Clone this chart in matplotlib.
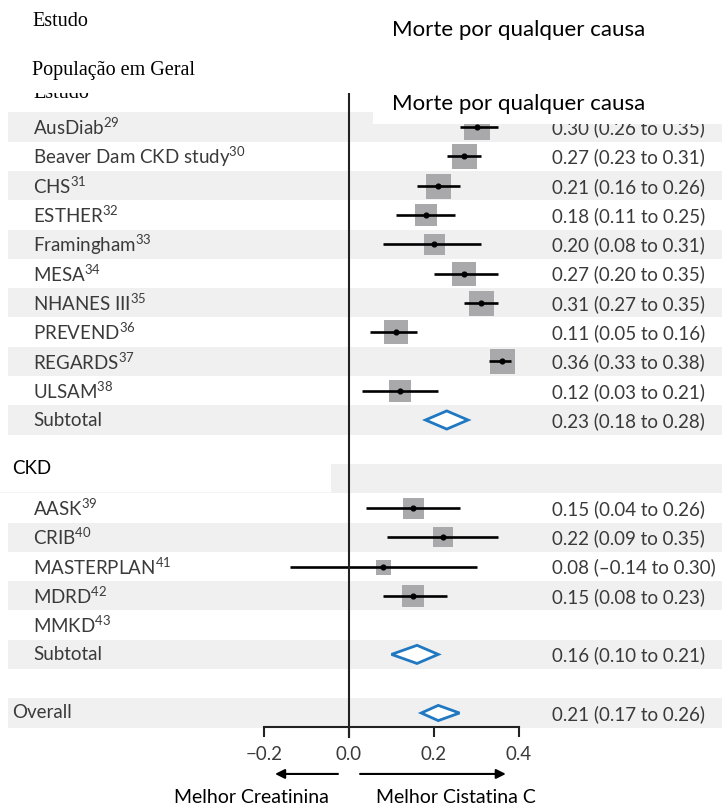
import matplotlib
matplotlib.use("Agg")
import matplotlib.pyplot as plt
from matplotlib.patches import Polygon, Rectangle

plt.rcParams["font.family"] = ["Lato", "DejaVu Sans"]
plt.rcParams["mathtext.fontset"] = "custom"
plt.rcParams["mathtext.rm"] = "Lato"

# ---- data -------------------------------------------------------------
general_studies = ["AusDiab", "Beaver Dam CKD study", "CHS", "ESTHER", "Framingham",
                   "MESA", "NHANES III", "PREVEND", "REGARDS", "ULSAM"]
general_refs = ["29", "30", "31", "32", "33", "34", "35", "36", "37", "38"]
general_est = [0.30, 0.27, 0.21, 0.18, 0.20, 0.27, 0.31, 0.11, 0.36, 0.12]
general_lo = [0.26, 0.23, 0.16, 0.11, 0.08, 0.20, 0.27, 0.05, 0.33, 0.03]
general_hi = [0.35, 0.31, 0.26, 0.25, 0.31, 0.35, 0.35, 0.16, 0.38, 0.21]
general_weight = [26, 25, 25, 23, 21, 24, 25, 24, 25, 22]
general_subtotal = (0.23, 0.18, 0.28)

ckd_studies = ["AASK", "CRIB", "MASTERPLAN", "MDRD", "MMKD"]
ckd_refs = ["39", "40", "41", "42", "43"]
ckd_est = [0.15, 0.22, 0.08, 0.15, None]
ckd_lo = [0.04, 0.09, -0.14, 0.08, None]
ckd_hi = [0.26, 0.35, 0.30, 0.23, None]
ckd_weight = [21, 20, 15, 23, None]
ckd_subtotal = (0.16, 0.10, 0.21)

overall = (0.21, 0.17, 0.26)

x_ticks = [-0.2, 0.0, 0.2, 0.4]
x_tick_labels = ["\u22120.2", "0.0", "0.2", "0.4"]

# ---- figure / coordinate frame ------------------------------------------
W, H = 722, 807
DPI = 100
fig = plt.figure(figsize=(W / DPI, H / DPI), dpi=DPI)
ax = fig.add_axes([0, 0, 1, 1])

X0_PX, PX_PER_UNIT = 349.0, 425.0   # position of zero and scale of the effect axis
Y0_PX, ROW_PX = 127.0, 29.3         # centre of first row and row pitch
ax.set_xlim(-X0_PX / PX_PER_UNIT, (W - X0_PX) / PX_PER_UNIT)
ax.set_ylim((H - Y0_PX) / ROW_PX, -Y0_PX / ROW_PX)
ax.patch.set_alpha(0)

def fx(px):
    return px / W

def fy(py):
    return 1 - py / H

BAND = "#f0f0f0"
BOX = "#a9a9ab"
BLUE = "#1f78c1"
TXT = "#3a3a3a"
FS = 13.5

# rows layout
rows = []
for i, name in enumerate(general_studies):
    rows.append(("study", name, general_refs[i], general_est[i], general_lo[i],
                 general_hi[i], general_weight[i]))
rows.append(("sub", "Subtotal", None) + general_subtotal + (None,))
rows.append(("blank",))
rows.append(("blank",))  # CKD header row
for i, name in enumerate(ckd_studies):
    rows.append(("study", name, ckd_refs[i], ckd_est[i], ckd_lo[i], ckd_hi[i], ckd_weight[i]))
rows.append(("sub", "Subtotal", None) + ckd_subtotal + (None,))
rows.append(("blank",))
rows.append(("overall", "Overall", None) + overall + (None,))

# alternating shaded bands
for i in range(len(rows)):
    if i % 2 == 0:
        ax.axhspan(i - 0.5, i + 0.5, xmin=8 / W, xmax=1, color=BAND, lw=0, zorder=0)

ytrans = ax.get_yaxis_transform()
for i, r in enumerate(rows):
    kind = r[0]
    if kind == "blank":
        continue
    _, name, ref, est, lo, hi, wt = r
    lx = 12 / W if kind == "overall" else 33 / W
    label = name if ref is None else name + r"$^{\mathregular{" + ref + "}}$"
    ax.text(lx, i, label, transform=ytrans, ha="left", va="center",
            fontsize=FS, color=TXT, zorder=5)
    if est is None:
        continue
    if kind == "study":
        side = wt * 0.72
        ax.scatter([est], [i], marker="s", s=side ** 2, color=BOX, lw=0, zorder=2)
        ax.plot([lo, hi], [i, i], color="black", lw=1.9, solid_capstyle="butt", zorder=3)
        ax.plot([est], [i], "o", color="black", ms=3.4, zorder=4)
    else:
        h = 0.26 if kind == "overall" else 0.31
        poly = Polygon([(lo, i), (est, i - h), (hi, i), (est, i + h)], closed=True,
                       facecolor="white", edgecolor=BLUE, lw=2.0, zorder=3, joinstyle="miter")
        ax.add_patch(poly)
    ax.text(552 / W, i + 0.04, f"{est:.2f} ({lo:.2f} to {hi:.2f})".replace("-", "\u2013"),
            transform=ytrans, ha="left", va="center", fontsize=FS, color=TXT, zorder=5)

# zero line
ax.plot([0, 0], [-1.16, 20.82], color="#222222", lw=1.5, zorder=4)

# effect axis
for s in ["top", "left", "right"]:
    ax.spines[s].set_visible(False)
ax.spines["bottom"].set_position(("data", 20.48))
ax.spines["bottom"].set_bounds(x_ticks[0], x_ticks[-1])
ax.spines["bottom"].set_linewidth(1.5)
ax.spines["bottom"].set_color("#222222")
ax.set_xticks(x_ticks)
ax.set_xticklabels(x_tick_labels)
ax.tick_params(axis="x", direction="out", length=7.5, width=1.5, color="#222222",
               labelsize=FS, labelcolor=TXT, pad=6)
ax.set_yticks([])

# direction arrows
arrow_row = 22.08
ax.annotate("", xy=(-0.174, arrow_row), xytext=(-0.026, arrow_row),
            arrowprops=dict(arrowstyle="-|>", color="black", lw=1.5, mutation_scale=14,
                            shrinkA=0, shrinkB=0))
ax.annotate("", xy=(0.369, arrow_row), xytext=(0.026, arrow_row),
            arrowprops=dict(arrowstyle="-|>", color="black", lw=1.5, mutation_scale=14,
                            shrinkA=0, shrinkB=0))
ax.text(-0.23, 22.9, "Melhor Creatinina", ha="center", va="center", fontsize=14, color="black")
ax.text(0.252, 22.9, "Melhor Cistatina C", ha="center", va="center", fontsize=14, color="black")

# header text beneath the title panels
fig.text(fx(33), fy(98), "Estudo", family="Liberation Serif", fontsize=14.5,
         va="baseline", ha="left", zorder=6)

# title panels
fig.add_artist(Rectangle((fx(0), fy(93)), fx(373), 93 / H, transform=fig.transFigure,
                         facecolor="white", edgecolor="none", zorder=10))
fig.add_artist(Rectangle((fx(373), fy(123.5)), fx(W - 373), 123.5 / H, transform=fig.transFigure,
                         facecolor="white", edgecolor="none", zorder=10))
fig.add_artist(Rectangle((fx(0), fy(492)), fx(331), 40 / H, transform=fig.transFigure,
                         facecolor="white", edgecolor="none", zorder=10))
fig.add_artist(Rectangle((fx(0), fy(493)), fx(331), 1 / H, transform=fig.transFigure,
                         facecolor="#f4f4f4", edgecolor="none", zorder=10))

fig.text(fx(32), fy(26), "Estudo", family="Liberation Serif", fontsize=14.5,
         va="baseline", ha="left", zorder=11)
fig.text(fx(32), fy(75), "População em Geral", family="Liberation Serif", fontsize=14.5,
         va="baseline", ha="left", zorder=11)
fig.text(fx(392), fy(36), "Morte por qualquer causa", fontsize=16, va="baseline",
         ha="left", zorder=11, color="black")
fig.text(fx(392), fy(110), "Morte por qualquer causa", fontsize=16, va="baseline",
         ha="left", zorder=11, color="black")
fig.text(fx(12), fy(469), "CKD", fontsize=FS, va="center", ha="left", zorder=11, color="black")

fig.savefig("out.png", dpi=DPI)
